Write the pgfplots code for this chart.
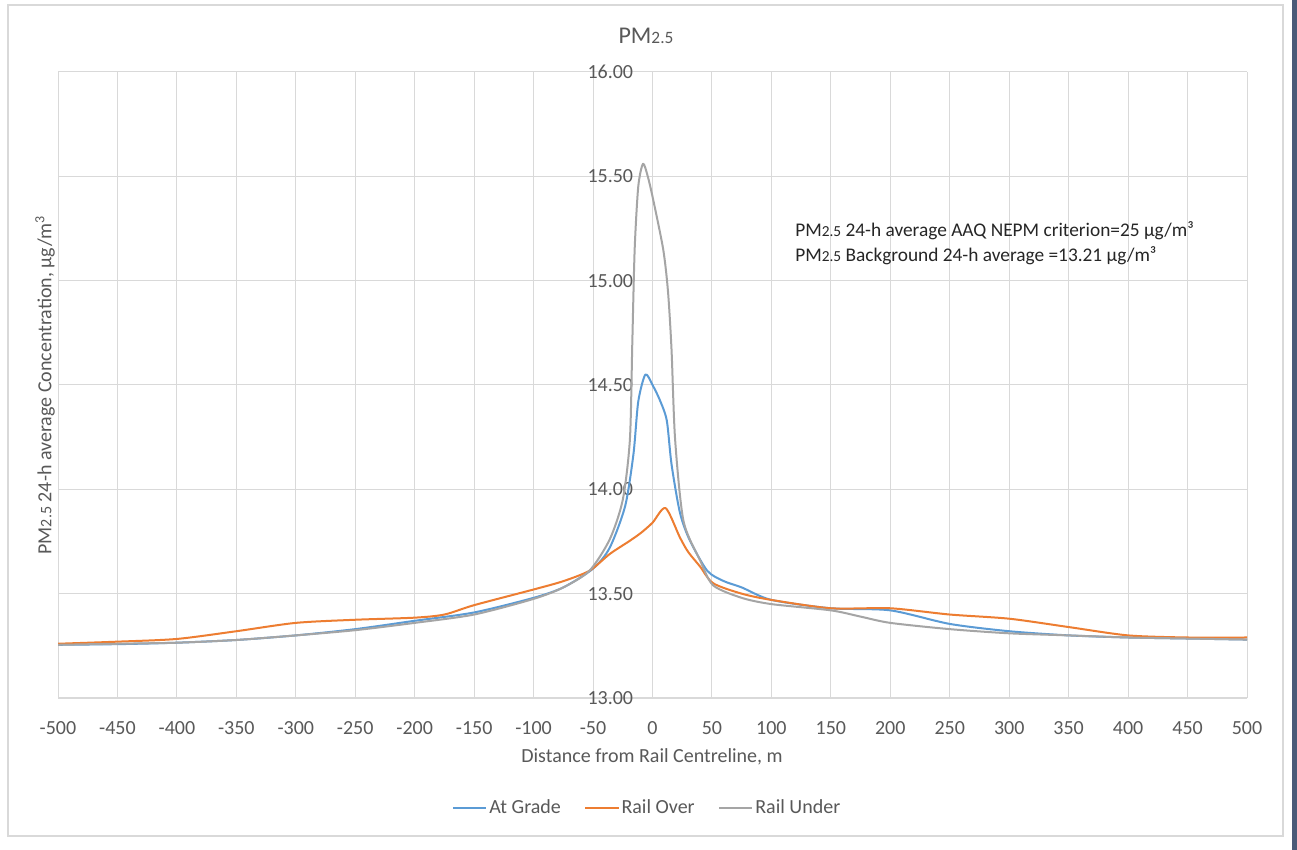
\documentclass[border=0pt]{standalone}
\usepackage{pgfplots}
\pgfplotsset{compat=1.18}
\usepackage{fontspec}
\setmainfont{Carlito}
\definecolor{cblue}{HTML}{5B9BD5}
\definecolor{corange}{HTML}{ED7D31}
\definecolor{cgray}{HTML}{A5A5A5}
\definecolor{gridc}{HTML}{D9D9D9}
\definecolor{txt}{HTML}{595959}
\definecolor{edgebar}{HTML}{4A5A78}
\begin{document}
\begin{tikzpicture}[x=0.75pt,y=0.75pt]
\path[use as bounding box] (0,0) rectangle (1297,850);
\fill[white] (0,0) rectangle (1297,850);
\draw[gridc, line width=1.5pt] (8,14) rectangle (1283,845);
\fill[edgebar] (1292,0) rectangle (1297,850);
\begin{axis}[
  at={(43.5pt,114pt)}, anchor=south west,
  scale only axis, width=891.75pt, height=469.5pt,
  xmin=-500, xmax=500, ymin=13, ymax=16,
  axis x line=bottom, axis y line=middle,
  axis line style={-, draw=gridc, line width=0.9pt},
  hide obscured x ticks=false, hide obscured y ticks=false,
  major tick length=0pt,
  xtick={-500,-450,-400,-350,-300,-250,-200,-150,-100,-50,0,50,100,150,200,250,300,350,400,450,500},
  xticklabels={-500,-450,-400,-350,-300,-250,-200,-150,-100,-50,0,50,100,150,200,250,300,350,400,450,500},
  ytick={13,13.5,14,14.5,15,15.5,16},
  yticklabels={13.00,13.50,14.00,14.50,15.00,15.50,16.00},
  ticklabel style={font=\fontsize{15}{18}\selectfont, text=txt},
  xticklabel style={yshift=-14pt},
  yticklabel style={xshift=-11pt},
  grid=major, grid style={draw=gridc, line width=0.75pt},
  legend style={at={(0.4955,-0.1757)}, anchor=center, draw=none, fill=none,
    legend columns=3, font=\fontsize{15}{18}\selectfont, text=txt,
    /tikz/every even column/.append style={column sep=16pt},
    nodes={inner sep=1.5pt}},
  legend image code/.code={\draw[#1, line width=1.5pt] (0pt,0pt) -- (25pt,0pt);},
  every axis plot/.append style={line width=1.5pt, smooth, tension=0.45, line join=round},
  clip=true,
]
\addplot[cblue] coordinates {
(-500,13.255) (-450,13.258) (-400,13.265) (-350,13.278) (-300,13.30) (-250,13.33)
(-200,13.37) (-150,13.41) (-100,13.48) (-75,13.53) (-50,13.62) (-36,13.72)
(-23,13.92) (-16,14.17) (-12,14.42) (-6,14.55) (0,14.50) (6,14.43) (12,14.33)
(16,14.12) (23,13.89) (31,13.76) (46,13.61) (60,13.56) (75,13.53) (100,13.47)
(150,13.43) (200,13.42) (250,13.355) (300,13.32) (350,13.30) (400,13.29) (450,13.285) (500,13.28)
};
\addplot[corange] coordinates {
(-500,13.26) (-450,13.27) (-400,13.283) (-350,13.32) (-300,13.36) (-250,13.375)
(-200,13.385) (-175,13.40) (-150,13.445) (-100,13.52) (-75,13.56) (-53,13.61)
(-36,13.69) (-20,13.75) (-10,13.79) (0,13.84) (11,13.91) (23,13.77) (30,13.70)
(40,13.63) (51,13.55) (75,13.50) (100,13.47) (150,13.43) (200,13.43) (250,13.40)
(300,13.38) (350,13.34) (400,13.30) (450,13.29) (500,13.29)
};
\addplot[cgray] coordinates {
(-500,13.255) (-450,13.26) (-400,13.265) (-350,13.278) (-300,13.30) (-250,13.325)
(-200,13.36) (-150,13.40) (-100,13.475) (-75,13.53) (-53,13.61) (-36,13.76)
(-25,13.95) (-19,14.24) (-17,14.70) (-15,15.15) (-12,15.45) (-8,15.56) (-4,15.50)
(0.5,15.39) (9,15.15) (13,14.95) (16,14.67) (19,14.24) (26,13.85) (40,13.66)
(51,13.54) (75,13.48) (100,13.45) (150,13.42) (175,13.39) (200,13.36) (250,13.33)
(300,13.31) (350,13.30) (400,13.29) (450,13.285) (500,13.28)
};
\legend{At Grade, Rail Over, Rail Under}
\end{axis}
\node[text=txt, font=\fontsize{18}{22}\selectfont] at (646,814) {PM{\fontsize{13}{15}\selectfont 2.5}};
\node[text=txt, font=\fontsize{15}{18}\selectfont] at (652,93) {Distance from Rail Centreline, m};
\node[text=txt, font=\fontsize{15}{18}\selectfont, rotate=90] at (45,465) {PM{\fontsize{12}{14}\selectfont 2.5} 24-h average Concentration, µg/m\textsuperscript{3}};
\node[anchor=base west, text=black!85, font=\fontsize{14.5}{17}\selectfont, inner sep=0pt] at (795,613) {PM{\fontsize{11.5}{13}\selectfont 2.5} 24-h average AAQ NEPM criterion=25 µg/m³};
\node[anchor=base west, text=black!85, font=\fontsize{14.5}{17}\selectfont, inner sep=0pt] at (795,588) {PM{\fontsize{11.5}{13}\selectfont 2.5} Background 24-h average =13.21 µg/m³};
\end{tikzpicture}
\end{document}
